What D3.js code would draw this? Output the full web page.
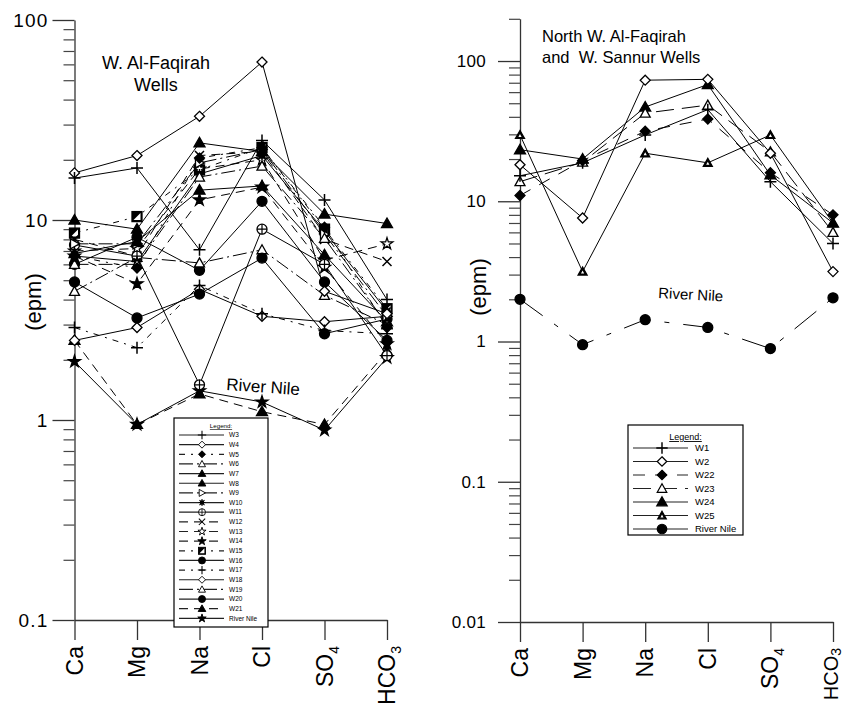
<!DOCTYPE html>
<html><head><meta charset="utf-8">
<script src="https://cdn.jsdelivr.net/npm/d3@7"></script>
<style>
body{margin:0;background:#fff;}
text{font-family:"Liberation Sans",Arial,sans-serif;fill:#000;white-space:pre;}
</style></head>
<body><svg id="c" width="843" height="717"></svg>
<script>
const cats = ["Ca","Mg","Na","Cl","SO4","HCO3"];
const yTicksLeft = [0.1, 1, 10, 100];
const yTicksRight = [0.01, 0.1, 1, 10, 100];

// Left chart: W. Al-Faqirah wells (epm)
const w3  = [16.2, 18.2, 7.1, 25, 12.6, 4.0];
const w4  = [17.2, 21, 33, 61.6, 4.4, 3.4];
const w5  = [6.6, 5.75, 20.4, 23, 9.2, 2.9];
const w6  = [6.0, 6.0, 16.4, 18.6, 8.1, 3.0];
const w7  = [10, 9.0, 24.3, 22, 10.7, 9.6];
const w8  = [6.8, 7.8, 14.1, 14.8, 6.7, 3.1];
const w9  = [7.6, 7.6, 19.3, 22.5, 8.5, 3.3];
const w10 = [6.6, 6.2, 17, 21, 8.8, 3.5];
const w11 = [7.5, 6.6, 1.5, 9.0, 6.0, 2.1];
const w12 = [8.0, 6.6, 21, 22, 8.0, 6.2];
const w13 = [7.0, 7.2, 18, 20, 6.3, 7.6];
const w14 = [6.6, 4.8, 12.6, 14.6, 5.8, 2.4];
const w15 = [8.6, 10.4, 17.8, 23, 9.0, 3.6];
const w16 = [4.9, 3.24, 4.26, 6.45, 2.7, 3.2];
const w17 = [2.9, 2.3, 4.7, 3.4, 2.8, 2.7];
const w18 = [2.5, 2.9, 4.5, 3.3, 3.1, 3.3];
const w19 = [4.4, 6.5, 6.1, 7.1, 4.2, 3.0];
const w20 = [6.0, 8.2, 5.6, 12.4, 4.9, 2.5];
const w21 = [2.5, 0.95, 1.35, 1.1, 0.95, 2.2];
const nileLeft = [1.96, 0.95, 1.4, 1.23, 0.89, 2.05];

// Right chart: North W. Al-Faqirah and W. Sannur wells (epm)
const w1  = [15.2, 18.8, 29.7, 45, 13.8, 5.0];
const w2  = [18.2, 7.6, 73, 74, 22, 3.15];
const w22 = [11.0, 19.5, 31.6, 38.6, 16, 8.0];
const w23 = [13.8, 19, 42.5, 48.5, 22.5, 6.0];
const w24 = [23.3, 20, 47, 68, 15.4, 7.0];
const w25 = [29.7, 3.15, 22, 18.8, 29.7, 7.0];
const nileRight = [2.0, 0.95, 1.43, 1.26, 0.89, 2.05];

const SOLID = null, DASHDOT = "14,4,2,4", DASH = "9,6", DDOT = "6,6,2,6";
const leftSeries = [
  {name:"W3", v:w3, m:"plus", d:SOLID},
  {name:"W4", v:w4, m:"diamondOpen", d:SOLID},
  {name:"W5", v:w5, m:"diamond", d:DDOT},
  {name:"W6", v:w6, m:"triOpen", d:DASHDOT},
  {name:"W7", v:w7, m:"tri", d:SOLID},
  {name:"W8", v:w8, m:"tri", d:SOLID},
  {name:"W9", v:w9, m:"triRight", d:DASHDOT},
  {name:"W10", v:w10, m:"asterisk", d:SOLID},
  {name:"W11", v:w11, m:"circlePlus", d:SOLID},
  {name:"W12", v:w12, m:"x", d:DASH},
  {name:"W13", v:w13, m:"starOpen", d:DASH},
  {name:"W14", v:w14, m:"star", d:DASH},
  {name:"W15", v:w15, m:"halfSquare", d:DDOT},
  {name:"W16", v:w16, m:"circle", d:SOLID},
  {name:"W17", v:w17, m:"plus", d:DDOT},
  {name:"W18", v:w18, m:"diamondOpen", d:SOLID},
  {name:"W19", v:w19, m:"triOpen", d:DASHDOT},
  {name:"W20", v:w20, m:"circle", d:SOLID},
  {name:"W21", v:w21, m:"tri", d:DASH},
  {name:"River Nile", v:nileLeft, m:"star", d:SOLID}
];
const rightSeries = [
  {name:"W1", v:w1, m:"plus", d:SOLID},
  {name:"W2", v:w2, m:"diamondOpen", d:SOLID},
  {name:"W22", v:w22, m:"diamond", d:"12,10"},
  {name:"W23", v:w23, m:"triOpen", d:"18,8"},
  {name:"W24", v:w24, m:"tri", d:SOLID},
  {name:"W25", v:w25, m:"triSmall", d:SOLID},
  {name:"River Nile", v:nileRight, m:"circle", d:SOLID, plotDash:"28,14,5,14"}
];

const svg = d3.select("#c");

function marker(g, type, x, y, s){
  s = s || 1;
  const m = g.append("g").attr("transform",`translate(${x},${y}) scale(${s})`);
  const st = (sel, fill) => sel.attr("fill", fill).attr("stroke","#000").attr("stroke-width",1.3);
  switch(type){
    case "plus": m.append("path").attr("d","M-6,0H6M0,-6V6").attr("stroke","#000").attr("stroke-width",1.5).attr("fill","none"); break;
    case "x": m.append("path").attr("d","M-4.5,-4.5L4.5,4.5M-4.5,4.5L4.5,-4.5").attr("stroke","#000").attr("stroke-width",1.5); break;
    case "diamondOpen": st(m.append("path").attr("d","M0,-5L5,0L0,5L-5,0Z"),"#fff"); break;
    case "diamond": st(m.append("path").attr("d","M0,-5L5,0L0,5L-5,0Z"),"#000"); break;
    case "triOpen": st(m.append("path").attr("d","M0,-5L5,4L-5,4Z"),"#fff"); break;
    case "tri": st(m.append("path").attr("d","M0,-5.5L5.5,4L-5.5,4Z"),"#000"); break;
    case "triSmall": st(m.append("path").attr("d","M0,-4.5L4.5,3.5L-4.5,3.5Z"),"#000");
      m.append("path").attr("d","M0,-1L1.6,2L-1.6,2Z").attr("fill","#fff"); break;
    case "triRight": st(m.append("path").attr("d","M-4,-5L5,0L-4,5Z"),"#fff"); break;
    case "asterisk": m.append("circle").attr("r",3.2).attr("fill","#000");
      m.append("path").attr("d","M-5,0H5M0,-5V5M-3.6,-3.6L3.6,3.6M-3.6,3.6L3.6,-3.6").attr("stroke","#000").attr("stroke-width",1.5); break;
    case "circlePlus": st(m.append("circle").attr("r",5),"#fff");
      m.append("path").attr("d","M-5,0H5M0,-5V5").attr("stroke","#000").attr("stroke-width",1.2); break;
    case "starOpen": st(m.append("path").attr("d",d3.symbol(d3.symbolStar,42)()),"#fff"); break;
    case "star": st(m.append("path").attr("d",d3.symbol(d3.symbolStar,45)()),"#000"); break;
    case "halfSquare": st(m.append("rect").attr("x",-5).attr("y",-5).attr("width",10).attr("height",10),"#000");
      m.append("path").attr("d","M3.5,-3.5L3.5,3.5L-3.5,3.5Z").attr("fill","#fff"); break;
    case "circle": st(m.append("circle").attr("r",5),"#000"); break;
  }
}

function drawChart(cfg){
  const g = svg.append("g");
  const x = d3.scalePoint().domain(cats).range(cfg.xr);
  const y = d3.scaleLog().domain(cfg.yd).range(cfg.yr);
  const ya = g.append("g").attr("transform",`translate(${cfg.xr[0]},0)`)
    .call(d3.axisLeft(y).tickValues(cfg.yTicks).tickFormat(d3.format("~g")).tickSize(22).tickSizeOuter(0).tickPadding(cfg.tp));
  ya.selectAll("text").attr("font-size",cfg.tfs).attr("font-family","Liberation Sans, Arial").attr("letter-spacing",cfg.ls);
  ya.selectAll("line,path").attr("stroke","#333").attr("stroke-width",1.3);
  const minors = [];
  for(let e=Math.log10(cfg.yd[0]); e<Math.log10(cfg.yd[1]); e++){
    for(let k=2;k<=9;k++){ const v=k*Math.pow(10,e); if(v<=cfg.yd[1]) minors.push(v); }
  }
  const ym = g.append("g").attr("transform",`translate(${cfg.xr[0]},0)`)
    .call(d3.axisLeft(y).tickValues(minors).tickFormat("").tickSize(11).tickSizeOuter(0));
  ym.select(".domain").remove();
  ym.selectAll("line").attr("stroke","#444").attr("stroke-width",1.2);
  const xa = g.append("g").attr("transform",`translate(0,${cfg.yr[0]})`)
    .call(d3.axisBottom(x).tickSize(20).tickFormat("").tickSizeOuter(0));
  xa.selectAll("line,path").attr("stroke","#333").attr("stroke-width",1.3);
  cats.forEach(c=>{
    const last = (c==="HCO3" && cfg.edge);
    const t = g.append("text").attr("transform",`translate(${x(c)+(last?5:8)},${cfg.yr[0]+26}) rotate(-90)`)
      .attr("text-anchor","end").attr("font-size",last?20:23);
    if(c==="SO4"||c==="HCO3"){
      t.append("tspan").text(c.slice(0,-1));
      t.append("tspan").attr("font-size",14).attr("dy",last?3:6).text(c.slice(-1));
    } else t.text(c);
  });
  g.append("text").attr("transform",`translate(${cfg.ylab[0]},${cfg.ylab[1]}) rotate(-90)`)
    .attr("text-anchor","middle").attr("font-size",22).text("(epm)");
  const line = d3.line().x((d,i)=>x(cats[i])).y(d=>y(d));
  cfg.series.forEach(s=>{
    g.append("path").attr("d",line(s.v)).attr("fill","none").attr("stroke","#000").attr("stroke-width",1)
      .attr("stroke-dasharray", s.plotDash || s.d);
  });
  cfg.series.slice().reverse().forEach(s=>{
    s.v.forEach((v,i)=>marker(g,s.m,x(cats[i]),y(v),1));
  });
  return g;
}

drawChart({xr:[74.5,387], yd:[0.1,100], yr:[620,20], yTicks:yTicksLeft, ylab:[41,302], tfs:19, ls:1.2, tp:4, series:leftSeries});
drawChart({xr:[520,833], yd:[0.01,200], yr:[622,18.8], yTicks:yTicksRight, ylab:[486,287], tfs:17, ls:0.3, tp:12, edge:true, series:rightSeries});

svg.append("text").attr("x",102).attr("y",69).attr("font-size",18).text("W. Al-Faqirah");
svg.append("text").attr("x",134).attr("y",91).attr("font-size",18).text("Wells");
svg.append("text").attr("x",542).attr("y",42).attr("font-size",16.5).text("North W. Al-Faqirah");
svg.append("text").attr("x",542).attr("y",63).attr("font-size",16.5).text("and  W. Sannur Wells");
svg.append("text").attr("transform","translate(226,390) rotate(4)").attr("font-size",17).text("River Nile");
svg.append("text").attr("transform","translate(658,298) rotate(3)").attr("font-size",15).text("River Nile");

function legend(cfg){
  const g = svg.append("g");
  g.append("rect").attr("x",cfg.x).attr("y",cfg.y).attr("width",cfg.w).attr("height",cfg.h)
    .attr("fill","#fff").attr("stroke","#000").attr("stroke-width",1.2);
  g.append("text").attr("x",cfg.x+cfg.w/2).attr("y",cfg.titleY).attr("text-anchor","middle")
    .attr("font-size",cfg.fs*0.95).attr("text-decoration","underline").attr("fill","#333").text("Legend:");
  cfg.series.forEach((s,i)=>{
    const yy = cfg.row0 + i*cfg.dy;
    g.append("line").attr("x1",cfg.l1).attr("x2",cfg.l2).attr("y1",yy).attr("y2",yy)
      .attr("stroke","#222").attr("stroke-width",1.2).attr("stroke-dasharray",s.d);
    marker(g,s.m,cfg.mx,yy,cfg.ms);
    g.append("text").attr("x",cfg.tx).attr("y",yy).attr("dy","0.35em").attr("font-size",cfg.fs)
      .attr("fill","#333").text(s.name);
  });
}
legend({x:174,y:418,w:94,h:209,titleY:428,row0:435,dy:9.65,l1:179,l2:224,mx:202,ms:0.7,tx:229,fs:6.5,series:leftSeries});
legend({x:628,y:425,w:115,h:110,titleY:440,row0:448,dy:13.5,l1:633,l2:688,mx:662,ms:0.95,tx:695,fs:9.5,series:rightSeries});
</script></body></html>
